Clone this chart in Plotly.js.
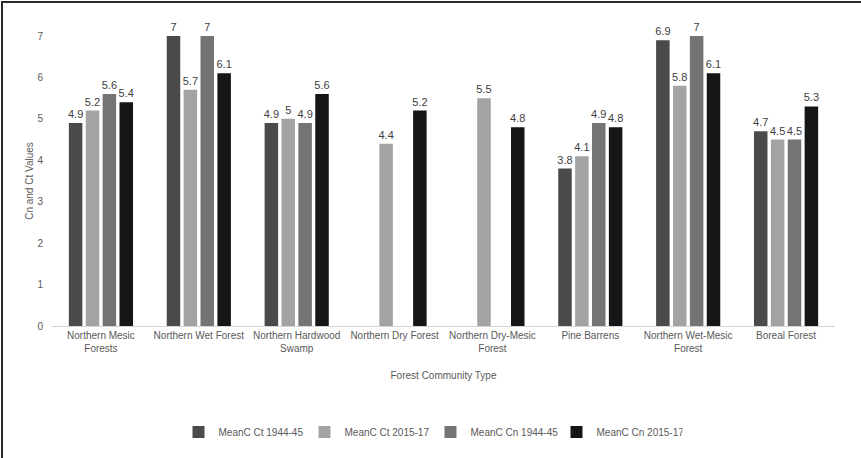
<!DOCTYPE html>
<html>
<head>
<meta charset="utf-8">
<script src="https://cdn.plot.ly/plotly-3.0.1.min.js"></script>
<style>
  html, body { margin: 0; padding: 0; background: #fff; }
  #wrap { position: relative; width: 861px; height: 458px; }
  #chart { width: 861px; height: 458px; }
  .frameL { position: absolute; left: 1px; top: 1px; width: 2px; height: 457px; background: #2a2a2a; }
  .frameT { position: absolute; left: 1px; top: 1px; width: 860px; height: 2px; background: #2a2a2a; }
</style>
</head>
<body>
<div id="wrap">
  <div id="chart"></div>
  <div class="frameL"></div>
  <div class="frameT"></div>
</div>
<script>
const categories = [
  "Northern Mesic<br>Forests",
  "Northern Wet Forest",
  "Northern Hardwood<br>Swamp",
  "Northern Dry Forest",
  "Northern Dry-Mesic<br>Forest",
  "Pine Barrens",
  "Northern Wet-Mesic<br>Forest",
  "Boreal Forest"
];
const seriesNames = ["MeanC Ct 1944-45", "MeanC Ct 2015-17", "MeanC Cn 1944-45", "MeanC Cn 2015-17"];
const ct1944 = [4.9, 7.0, 4.9, null, null, 3.8, 6.9, 4.7];
const ct2015 = [5.2, 5.7, 5.0, 4.4, 5.5, 4.1, 5.8, 4.5];
const cn1944 = [5.6, 7.0, 4.9, null, null, 4.9, 7.0, 4.5];
const cn2015 = [5.4, 6.1, 5.6, 5.2, 4.8, 4.8, 6.1, 5.3];
const colors = ["#4a4a4a", "#a3a3a3", "#747474", "#161616"];
const yTicks = [0, 1, 2, 3, 4, 5, 6, 7];

const seriesValues = [ct1944, ct2015, cn1944, cn2015];
const traces = seriesValues.map((vals, i) => ({
  type: "bar",
  name: seriesNames[i],
  x: categories,
  y: vals,
  marker: { color: colors[i], line: { width: 0 } },
  text: vals.map(v => v === null ? "" : String(v)),
  textposition: "outside",
  constraintext: "none",
  textfont: { family: "Liberation Sans, Arial, sans-serif", size: 11, color: "#404040" },
  cliponaxis: false,
  hoverinfo: "skip"
}));

const layout = {
  width: 861,
  height: 458,
  margin: { l: 52, r: 26, t: 36, b: 132, autoexpand: false },
  paper_bgcolor: "#ffffff",
  plot_bgcolor: "#ffffff",
  barmode: "group",
  bargap: 0.31,
  bargroupgap: 0.2,
  font: { family: "Liberation Sans, Arial, sans-serif", size: 10, color: "#595959" },
  xaxis: {
    showgrid: false,
    showline: true,
    linecolor: "#d4d4d4",
    linewidth: 1,
    ticks: "",
    automargin: false,
    tickfont: { size: 10, color: "#595959" },
    title: { text: "Forest Community Type", font: { size: 10, color: "#595959" }, standoff: 18 },
    fixedrange: true
  },
  yaxis: {
    range: [0, 7],
    tickvals: yTicks,
    ticktext: yTicks.map(String),
    showgrid: false,
    zeroline: false,
    showline: false,
    ticks: "",
    automargin: false,
    ticklabelstandoff: 8,
    tickfont: { size: 10, color: "#595959" },
    title: { text: "Cn and Ct Values", font: { size: 10, color: "#595959" }, standoff: 1 },
    fixedrange: true
  },
  showlegend: true,
  legend: {
    orientation: "h",
    x: 0.5,
    xanchor: "center",
    xref: "container",
    yref: "container",
    y: 0.057,
    yanchor: "middle",
    font: { size: 10, color: "#595959" },
    entrywidth: 81,
    itemwidth: 30,
    traceorder: "normal"
  }
};

Plotly.newPlot("chart", traces, layout, { displayModeBar: false, staticPlot: true });
</script>
</body>
</html>
